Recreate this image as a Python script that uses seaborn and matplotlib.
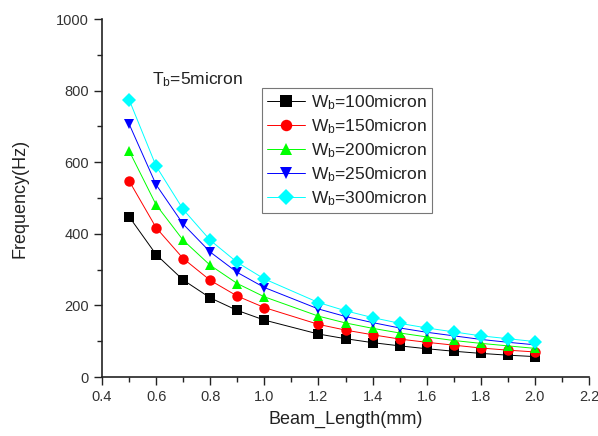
import matplotlib
matplotlib.use("Agg")
import matplotlib.pyplot as plt
import seaborn as sns
import pandas as pd
from matplotlib.ticker import MultipleLocator

beam_length = [0.5, 0.6, 0.7, 0.8, 0.9, 1.0, 1.2, 1.3, 1.4, 1.5, 1.6, 1.7, 1.8, 1.9, 2.0]
f_100 = [448, 342, 271, 221, 186, 159, 120, 107, 96, 87, 79, 72, 66, 61, 57]
f_150 = [548, 417, 331, 270, 226, 194, 147, 131, 118, 106, 97, 89, 81, 75, 70]
f_200 = [632, 481, 382, 312, 261, 224, 170, 151, 136, 123, 112, 102, 94, 87, 80]
f_250 = [707, 537, 427, 349, 292, 250, 190, 169, 152, 137, 125, 115, 105, 97, 90]
f_300 = [775, 589, 468, 382, 320, 274, 208, 185, 166, 150, 137, 126, 115, 107, 99]
series_labels = [r"W$_b$=100micron", r"W$_b$=150micron", r"W$_b$=200micron",
                 r"W$_b$=250micron", r"W$_b$=300micron"]
colors = ["#000000", "#ff0000", "#00ff00", "#0000ff", "#00ffff"]
markers = ["s", "o", "^", "v", "D"]

rows = []
for lab, vals in zip(series_labels, [f_100, f_150, f_200, f_250, f_300]):
    for x, y in zip(beam_length, vals):
        rows.append({"Beam_Length": x, "Frequency": y, "series": lab})
df = pd.DataFrame(rows)

sns.set_style("ticks")
plt.rcParams["font.family"] = ["Liberation Sans", "DejaVu Sans"]
plt.rcParams["mathtext.default"] = "regular"

fig = plt.figure(figsize=(5.98, 4.36), dpi=100)
ax = fig.add_axes([0.1706, 0.1353, 0.8144, 0.8211])

sns.lineplot(data=df, x="Beam_Length", y="Frequency", hue="series", style="series",
             palette=colors, markers=markers, dashes=False, linewidth=0.7,
             markersize=7.5, markeredgewidth=0, ax=ax, legend=True)

ax.set_xlim(0.4, 2.2)
ax.set_ylim(0, 1000)
ax.xaxis.set_major_locator(MultipleLocator(0.2))
ax.xaxis.set_minor_locator(MultipleLocator(0.1))
ax.yaxis.set_major_locator(MultipleLocator(200))
ax.yaxis.set_minor_locator(MultipleLocator(100))
ax.set_xticklabels([f"{v:.1f}" for v in ax.get_xticks()])
ax.tick_params(which="major", length=6, width=1, labelsize=10.5, direction="out",
               color="#222222", labelcolor="#333333")
ax.tick_params(which="minor", length=3.5, width=1, direction="out", color="#222222")
sns.despine(ax=ax)
for s in ["left", "bottom"]:
    ax.spines[s].set_linewidth(1.2)
    ax.spines[s].set_color("#222222")
ax.set_xlabel("Beam_Length(mm)", fontsize=13, color="#222222", labelpad=5)
ax.set_ylabel("Frequency(Hz)", fontsize=13, color="#222222", labelpad=20)

ax.text(0.585, 830, r"T$_b$=5micron", fontsize=12.5, va="center", ha="left",
        color="#222222")

leg = ax.legend(loc="upper left", bbox_to_anchor=(0.3285, 0.807), borderaxespad=0,
                fontsize=12.5, frameon=True, fancybox=False, edgecolor="#555555",
                handlelength=2.2, handletextpad=0.3, labelspacing=0.3,
                borderpad=0.3, markerscale=1.1)
leg.get_frame().set_linewidth(0.8)
for t in leg.get_texts():
    t.set_color("#222222")

fig.savefig("out.png", dpi=100)
